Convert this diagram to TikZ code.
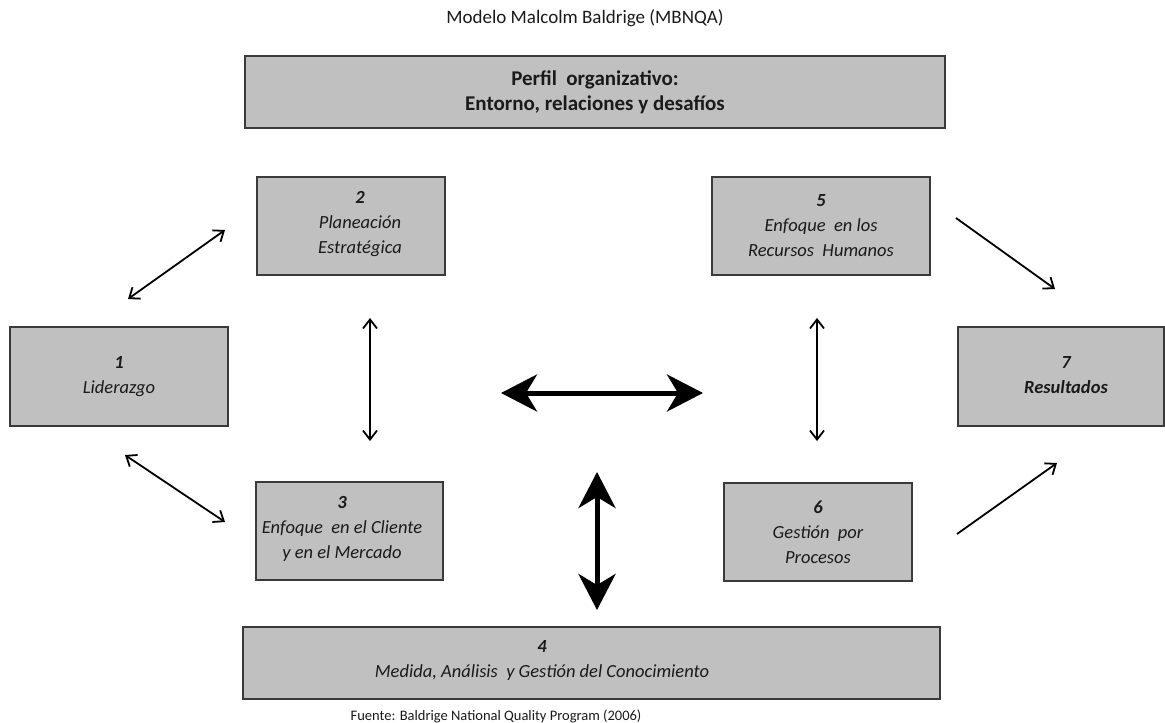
\documentclass[tikz,border=0pt]{standalone}
\usepackage{fontspec}
\setmainfont{Carlito}
\usetikzlibrary{arrows.meta}
\definecolor{boxfill}{HTML}{C0C0C0}
\definecolor{boxline}{HTML}{3A3A3A}
\definecolor{txt}{HTML}{1A1A1A}
\tikzset{
  box/.style={draw=boxline, line width=1.8pt, fill=boxfill, inner sep=0pt, align=center,
    text=txt, font=\fontsize{18.5}{25}\selectfont\itshape},
  boxtext/.style={inner sep=0pt, align=center, text=txt, font=\fontsize{18.5}{25}\selectfont\itshape},
  thin/.style={line width=1.8pt, {Straight Barb[length=9pt,width=14pt]}-{Straight Barb[length=9pt,width=14pt]}},
  thinone/.style={line width=1.8pt, -{Straight Barb[length=9pt,width=14pt]}},
  thick/.style={line width=5pt, {Stealth[length=36pt,width=37pt,inset=11pt]}-{Stealth[length=36pt,width=37pt,inset=11pt]}},
}
\begin{document}
\begin{tikzpicture}[x=1pt,y=-1pt]
\useasboundingbox (0,0) rectangle (1165,723);
\node[text=txt, font=\fontsize{19}{21}\selectfont] (title) at (585,18) {Modelo Malcolm Baldrige (MBNQA)};
\node[box, minimum width=700pt, minimum height=72pt, font=\fontsize{21}{25}\selectfont\bfseries] (perfil) at (595,92)
  {Perfil\ \ organizativo:\\Entorno, relaciones y desafíos};
\node[box, minimum width=188pt, minimum height=98pt] (b2) at (351,226) {};
\node[boxtext] (b2t) at (360,224) {\textbf{2}\\Planeación\\Estratégica};
\node[box, minimum width=218pt, minimum height=98pt] (b5) at (821,226) {\textbf{5}\\Enfoque\ \ en los\\Recursos\ \ Humanos};
\node[box, minimum width=218pt, minimum height=99pt] (b1) at (119,376.5) {\textbf{1}\\Liderazgo};
\node[box, minimum width=206pt, minimum height=99pt] (b7) at (1061,376.5) {};
\node[boxtext] (b7t) at (1066,375) {\textbf{7}\\\textbf{Resultados}};
\node[box, minimum width=187pt, minimum height=98pt] (b3) at (349.5,531) {};
\node[boxtext] (b3t) at (342,529) {\textbf{3}\\Enfoque\ \ en el Cliente\\y en el Mercado};
\node[box, minimum width=188pt, minimum height=98pt] (b6) at (818,532) {\textbf{6}\\Gestión\ \ por\\Procesos};
\node[box, minimum width=697pt, minimum height=72pt] (b4) at (591.5,663) {};
\node[boxtext] (b4t) at (542,660) {\textbf{4}\\Medida, Análisis\ \ y Gestión del Conocimiento};
\node[text=txt, font=\fontsize{14.5}{16}\selectfont] (fuente) at (496,716) {Fuente: Baldrige National Quality Program (2006)};
% arrow end points
\coordinate (a12s) at (128,299);
\coordinate (a12e) at (225,230);
\coordinate (a23s) at (370,318);
\coordinate (a23e) at (370,441);
\coordinate (a13s) at (125,455);
\coordinate (a13e) at (225,522);
\coordinate (hcs) at (501,393);
\coordinate (hce) at (703,393);
\coordinate (vcs) at (597,472);
\coordinate (vce) at (597,610);
\coordinate (a56s) at (817,318);
\coordinate (a56e) at (817,441);
\coordinate (a57s) at (956,218);
\coordinate (a57e) at (1055,289);
\coordinate (a67s) at (957,534);
\coordinate (a67e) at (1057,463);
\draw[thin] (a12s) -- (a12e);
\draw[thin] (a23s) -- (a23e);
\draw[thin] (a13s) -- (a13e);
\draw[thin] (a56s) -- (a56e);
\draw[thinone] (a57s) -- (a57e);
\draw[thinone] (a67s) -- (a67e);
\draw[thick] (hcs) -- (hce);
\draw[thick] (vcs) -- (vce);
\end{tikzpicture}
\end{document}
